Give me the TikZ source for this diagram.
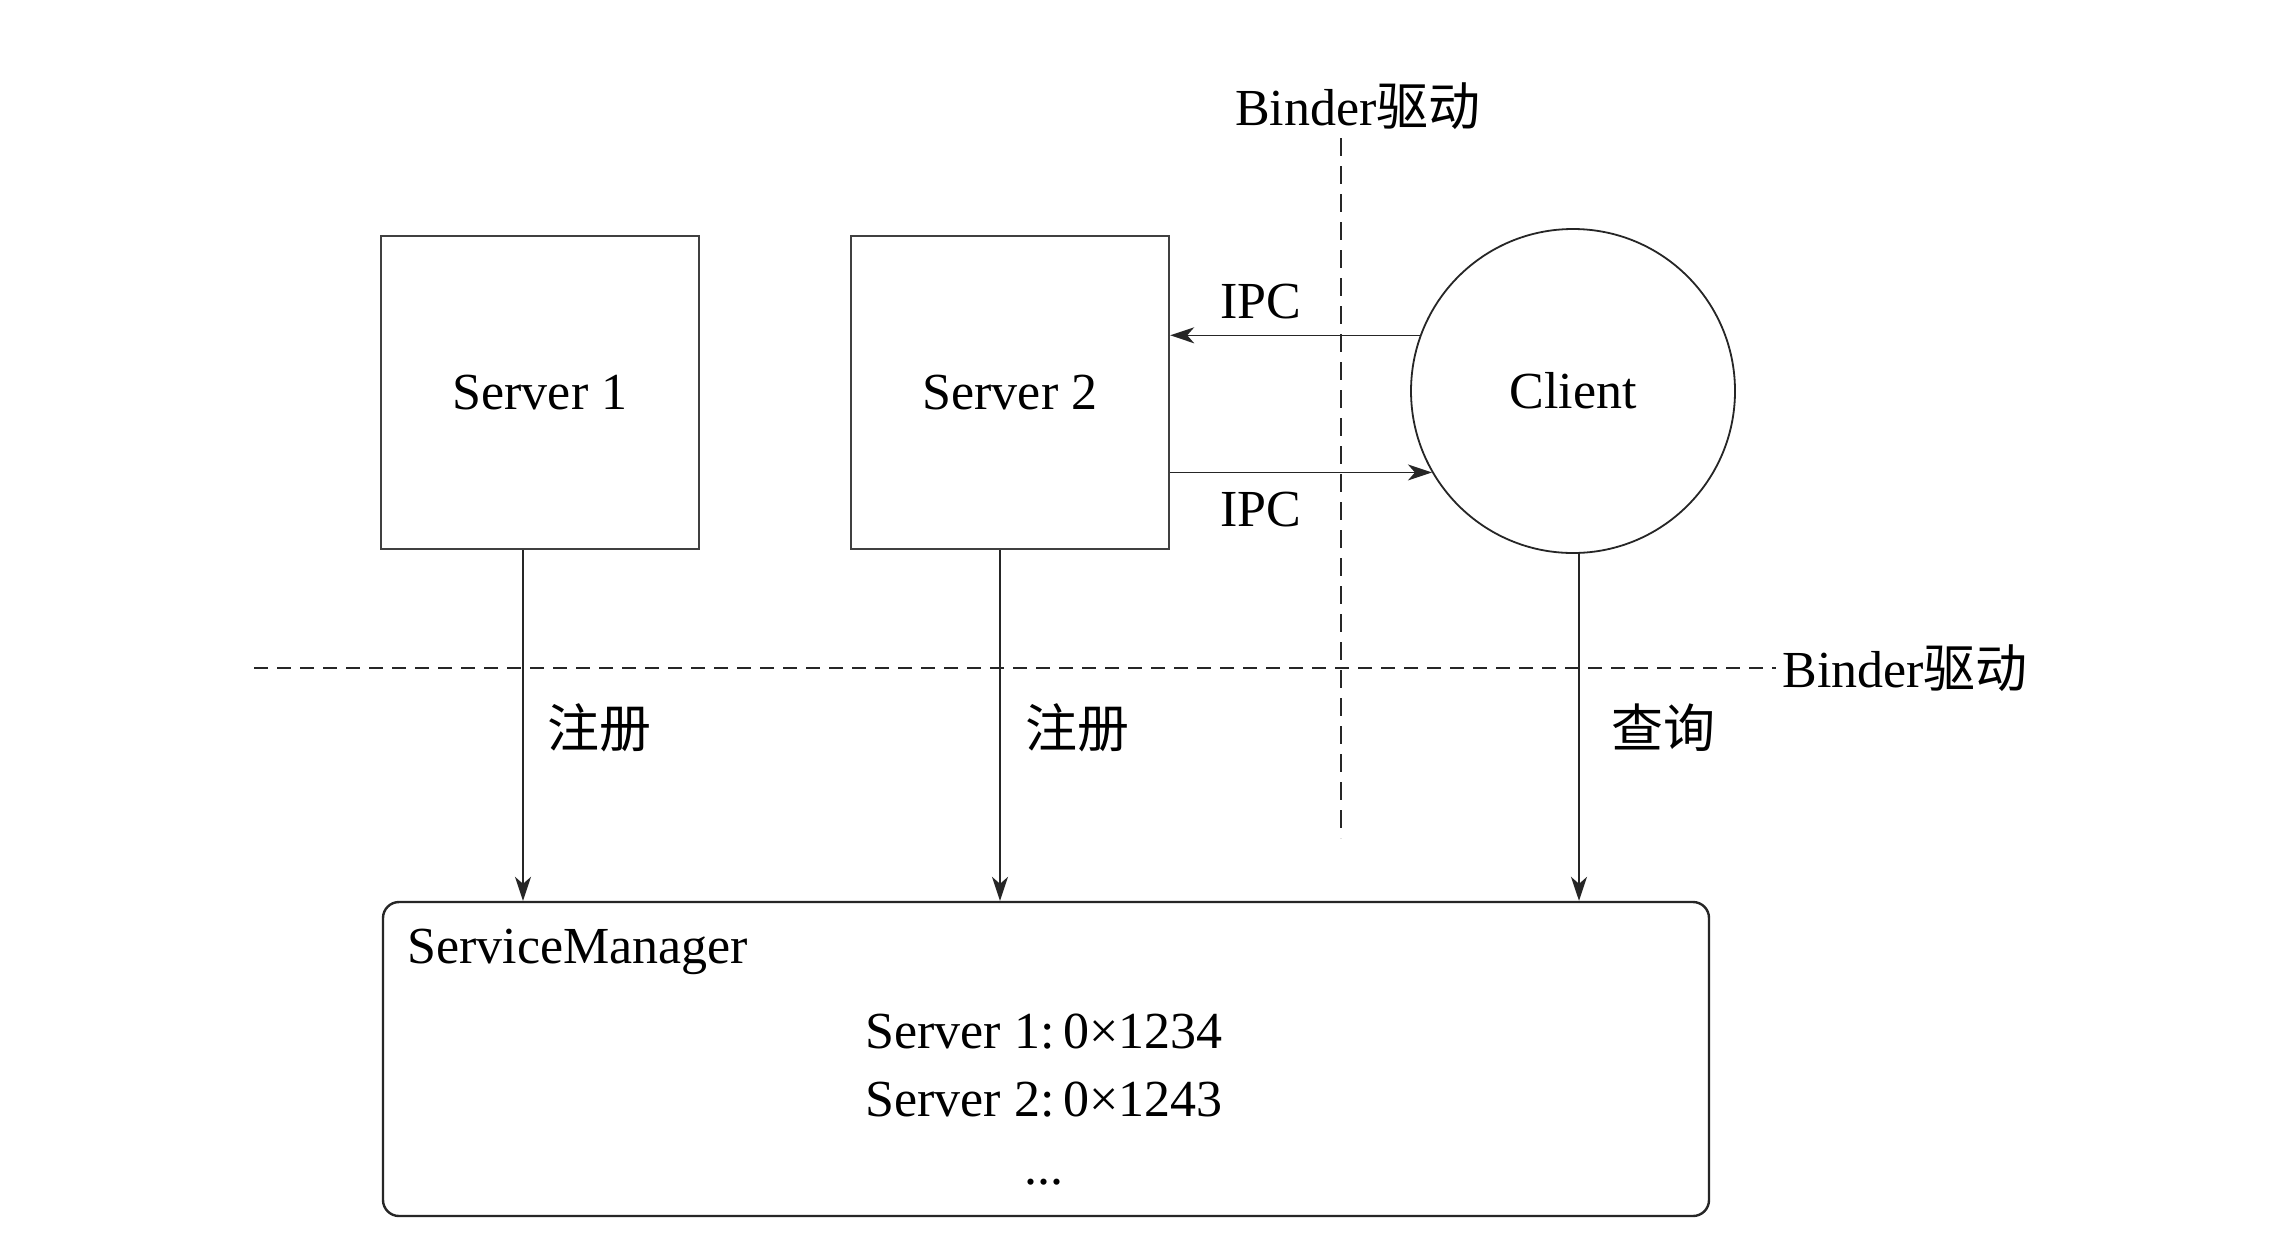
\documentclass[tikz,border=0pt]{standalone}
\usepackage{fontspec}
\setmainfont{Liberation Serif}
\newfontfamily\cjk{Noto Sans CJK SC}
\usetikzlibrary{arrows.meta}
\begin{document}
\begin{tikzpicture}[x=0.5pt,y=-0.5pt,
  every node/.style={font=\fontsize{26pt}{30pt}\selectfont},
  srvbox/.style={draw=black!75,line width=1.2pt,inner sep=0pt,minimum width=159pt,minimum height=156.5pt},
  clientnode/.style={draw=black!85,circle,line width=0.9pt,inner sep=0pt,minimum size=162pt},
  smbox/.style={draw=black!85,line width=1.2pt,rounded corners=8pt,inner sep=0pt,minimum width=663pt,minimum height=157pt},
  arr/.style={draw=black!85,line width=0.8pt,-{Stealth[length=12pt,width=8pt,inset=3.5pt]}},
  sep/.style={draw=black!85,line width=0.8pt,dash pattern=on 7pt off 4.5pt},
  lbl/.style={inner sep=0pt}
]
\useasboundingbox (0,0) rectangle (2273,1243);
\fill[white] (0,0) rectangle (2273,1243);

% separators
\coordinate (vtop) at (1341,138);
\coordinate (vbot) at (1341,838);
\coordinate (hleft) at (254,668);
\coordinate (hright) at (1776,668);
\draw[sep,dash pattern=on 9pt off 5pt] (vtop) -- (vbot);
\draw[sep] (hleft) -- (hright);
\node[lbl] (bintop) at (1358,106) {Binder{\cjk 驱动}};
\node[lbl,anchor=west] (binright) at (1782,668) {Binder{\cjk 驱动}};

% nodes
\node[srvbox] (s1) at (540,392.5) {Server 1};
\node[srvbox] (s2) at (1010,392.5) {Server 2};
\node[clientnode] (client) at (1573,391) {Client};
\node[smbox] (sm) at (1046,1059) {};

\node[lbl,anchor=west] (smtitle) at (407,952) {ServiceManager};
\node[lbl,anchor=base] (l1) at (1044,1048) {Server 1:\,0×1234};
\node[lbl,anchor=base] (l2) at (1044,1116) {Server 2:\,0×1243};
\node[lbl,anchor=base] (l3) at (1044,1184) {...};

% IPC arrows
\draw[arr] (client.160) -- (s2.east |- client.160);
\draw[arr] (s2.east |- client.210) -- (client.210);
\node[lbl] (ipc1) at (1261,302) {IPC};
\node[lbl] (ipc2) at (1261,510) {IPC};

% registration / query arrows
\coordinate (a1) at (523,0);
\coordinate (a2) at (1000,0);
\coordinate (a3) at (1579,0);
\draw[arr] (s1.south -| a1) -- (sm.north -| a1);
\draw[arr] (s2.south -| a2) -- (sm.north -| a2);
\draw[arr] (client.south -| a3) -- (sm.north -| a3);
\node[lbl] (reg1) at (599,728) {\cjk 注册};
\node[lbl] (reg2) at (1077,728) {\cjk 注册};
\node[lbl] (qry) at (1663,728) {\cjk 查询};
\end{tikzpicture}
\end{document}
